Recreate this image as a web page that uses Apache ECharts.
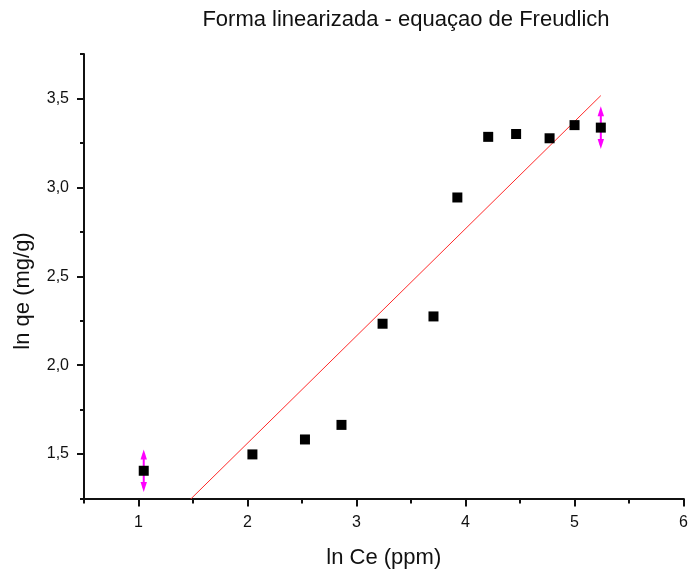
<!DOCTYPE html>
<html>
<head>
<meta charset="utf-8">
<style>
  html, body { margin: 0; padding: 0; background: #ffffff; }
  #chart { width: 691px; height: 574px; }
</style>
<script src="https://cdn.jsdelivr.net/npm/echarts@6/dist/echarts.min.js"></script>
</head>
<body>
<div id="chart"></div>
<script>
// ln Ce (ppm) and ln qe (mg/g) measurements
const lnCe = [1.048, 2.045, 2.527, 2.862, 3.239, 3.706, 3.925, 4.208, 4.464, 4.771, 5.000, 5.241];
const lnQe = [1.406, 1.498, 1.582, 1.664, 2.233, 2.274, 2.943, 3.284, 3.300, 3.276, 3.350, 3.336];

// points carrying error bars: [ln Ce, ln qe, half-range]
const errorBars = [
  [1.048, 1.406, 0.12],
  [5.241, 3.336, 0.12]
];

// endpoints of the linear fit, spanning the data range
const fitX = [1.048, 5.241];
const fitY = [0.987, 3.516];

// axis ticks
const xMajorTicks = [1, 2, 3, 4, 5, 6];
const xMinorTicks = [0.5, 1.5, 2.5, 3.5, 4.5, 5.5];
const yMajorTicks = [1.5, 2.0, 2.5, 3.0, 3.5];
const yMinorTicks = [1.25, 1.75, 2.25, 2.75, 3.25, 3.75];

const FONT = "'Liberation Sans', Arial, sans-serif";
const INK = '#111111';
const MAGENTA = '#ff00ff';

const scatterData = lnCe.map((x, i) => [x, lnQe[i]]);
const fitData = fitX.map((x, i) => [x, fitY[i]]);

const xRange = { min: 0.5, max: 6 };
const yRange = { min: 1.25, max: 3.75 };

const chart = echarts.init(document.getElementById('chart'), null, { renderer: 'canvas' });

chart.setOption({
  backgroundColor: '#ffffff',
  animation: false,
  grid: { left: 84, right: 5, top: 54, bottom: 75.5, containLabel: false },
  xAxis: [
    {
      type: 'value', position: 'bottom', ...xRange,
      axisLine: { show: true, onZero: false, lineStyle: { color: INK, width: 2 } },
      axisTick: { show: true, customValues: xMajorTicks, length: 8, lineStyle: { color: INK, width: 2 } },
      axisLabel: {
        show: true, customValues: xMajorTicks, margin: 16,
        fontFamily: FONT, fontSize: 16, color: INK,
        formatter: v => String(v)
      },
      splitLine: { show: false },
      name: 'ln Ce (ppm)', nameLocation: 'middle', nameGap: 48,
      nameTextStyle: { fontFamily: FONT, fontSize: 22, color: INK }
    },
    {
      type: 'value', position: 'bottom', ...xRange,
      axisLine: { show: false, onZero: false },
      axisTick: { show: true, customValues: xMinorTicks, length: 5, lineStyle: { color: INK, width: 2 } },
      axisLabel: { show: false },
      splitLine: { show: false }
    }
  ],
  yAxis: [
    {
      type: 'value', position: 'left', ...yRange,
      axisLine: { show: true, onZero: false, lineStyle: { color: INK, width: 2 } },
      axisTick: { show: true, customValues: yMajorTicks, length: 7, lineStyle: { color: INK, width: 2 } },
      axisLabel: {
        show: true, customValues: yMajorTicks, margin: 15,
        fontFamily: FONT, fontSize: 16, color: INK,
        formatter: v => v.toFixed(1).replace('.', ',')
      },
      splitLine: { show: false }
    },
    {
      type: 'value', position: 'left', ...yRange,
      axisLine: { show: false, onZero: false },
      axisTick: { show: true, customValues: yMinorTicks, length: 4, lineStyle: { color: INK, width: 2 } },
      axisLabel: { show: false },
      splitLine: { show: false }
    }
  ],
  graphic: [
    {
      type: 'text', x: 406, y: 20,
      style: {
        text: 'Forma linearizada - equaçao de Freudlich',
        align: 'center', verticalAlign: 'middle',
        font: `22px ${FONT}`, fill: INK
      }
    },
    {
      type: 'text', x: 23, y: 291, rotation: Math.PI / 2,
      style: {
        text: 'ln qe (mg/g)', align: 'center', verticalAlign: 'middle',
        font: `22px ${FONT}`, fill: INK
      }
    }
  ],
  series: [
    {
      name: 'fit', type: 'line', xAxisIndex: 0, yAxisIndex: 0,
      data: fitData, showSymbol: false, symbol: 'none', clip: true,
      lineStyle: { color: '#ff2a2a', width: 1 }, z: 2
    },
    {
      name: 'error', type: 'custom', xAxisIndex: 0, yAxisIndex: 0,
      data: errorBars, z: 3,
      renderItem: (params, api) => {
        const x = api.value(0), y = api.value(1), e = api.value(2);
        const top = api.coord([x, y + e]);
        const bot = api.coord([x, y - e]);
        const h = 10, w = 3.2;
        const style = { fill: MAGENTA };
        return {
          type: 'group',
          children: [
            { type: 'line', shape: { x1: top[0], y1: top[1] + 4, x2: bot[0], y2: bot[1] - 4 },
              style: { stroke: MAGENTA, lineWidth: 2 } },
            { type: 'polygon', shape: { points: [[top[0], top[1]], [top[0] - w, top[1] + h], [top[0] + w, top[1] + h]] }, style },
            { type: 'polygon', shape: { points: [[bot[0], bot[1]], [bot[0] - w, bot[1] - h], [bot[0] + w, bot[1] - h]] }, style }
          ]
        };
      }
    },
    {
      name: 'ln qe', type: 'scatter', xAxisIndex: 0, yAxisIndex: 0,
      data: scatterData, symbol: 'rect', symbolSize: 10,
      itemStyle: { color: '#000000', opacity: 1 }, z: 4
    }
  ]
});
</script>
</body>
</html>
